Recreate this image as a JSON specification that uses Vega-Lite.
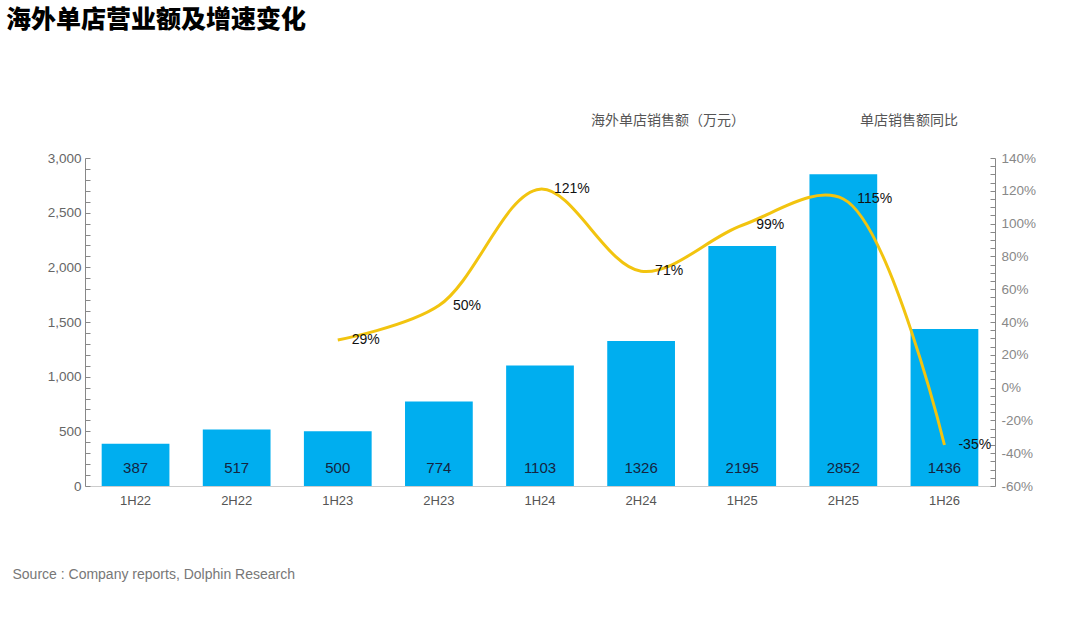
{
  "$schema": "https://vega.github.io/schema/vega-lite/v6.json",
  "width": 910,
  "height": 328,
  "autosize": "none",
  "padding": {"left": 85, "right": 85, "top": 158, "bottom": 142},
  "background": "white",
  "title": {
    "text": "海外单店营业额及增速变化",
    "anchor": "start",
    "dx": -6,
    "offset": 81,
    "font": "Noto Sans CJK SC",
    "fontSize": 25,
    "fontWeight": 900,
    "color": "#000000"
  },
  "config": {
    "view": {"stroke": null},
    "font": "Liberation Sans, Noto Sans CJK SC"
  },
  "data": {
    "values": [
      {"period": "1H22", "sales": 387, "growth": null},
      {"period": "2H22", "sales": 517, "growth": null},
      {"period": "1H23", "sales": 500, "growth": 29},
      {"period": "2H23", "sales": 774, "growth": 50},
      {"period": "1H24", "sales": 1103, "growth": 121},
      {"period": "2H24", "sales": 1326, "growth": 71},
      {"period": "1H25", "sales": 2195, "growth": 99},
      {"period": "2H25", "sales": 2852, "growth": 115},
      {"period": "1H26", "sales": 1436, "growth": -35}
    ]
  },
  "encoding": {
    "x": {
      "field": "period",
      "type": "nominal",
      "sort": null,
      "scale": {"paddingInner": 0.33, "paddingOuter": 0.165},
      "axis": {
        "labelAngle": 0,
        "labelFontSize": 13,
        "labelColor": "#555555",
        "labelPadding": 8,
        "ticks": false,
        "domainColor": "#cccccc",
        "title": "Source : Company reports, Dolphin Research",
        "titleX": -73,
        "titleY": 88,
        "titleAlign": "left",
        "titleBaseline": "middle",
        "titleFontSize": 14,
        "titleFontWeight": "normal",
        "titleColor": "#777777"
      }
    }
  },
  "layer": [
    {
      "mark": {"type": "bar"},
      "encoding": {
        "y": {
          "field": "sales",
          "type": "quantitative",
          "scale": {"domain": [0, 3000], "nice": false},
          "axis": {
            "title": null,
            "values": [0,100,200,300,400,500,600,700,800,900,1000,1100,1200,1300,1400,1500,1600,1700,1800,1900,2000,2100,2200,2300,2400,2500,2600,2700,2800,2900,3000],
            "labelExpr": "datum.value % 500 === 0 ? format(datum.value, ',') : ''",
            "labelOverlap": false,
            "grid": false,
            "tickSize": -5,
            "tickColor": "#888888",
            "domainColor": "#888888",
            "labelPadding": 9,
            "labelFontSize": 13.5,
            "labelColor": "#666666"
          }
        },
        "color": {
          "datum": "海外单店销售额（万元）",
          "type": "nominal",
          "scale": {
            "domain": ["海外单店销售额（万元）", "单店销售额同比"],
            "range": ["#00AEEF", "#F2C40F"]
          },
          "legend": {
            "orient": "none",
            "legendX": 492,
            "legendY": -44,
            "direction": "horizontal",
            "title": null,
            "symbolSize": 0,
            "symbolOpacity": 0,
            "labelOffset": 0,
            "columnPadding": 101,
            "labelFontSize": 14,
            "labelColor": "#555555",
            "labelLimit": 300
          }
        }
      }
    },
    {
      "mark": {"type": "text", "baseline": "middle", "dy": -18, "fontSize": 15, "color": "#15243f"},
      "encoding": {
        "y": {"value": "height"},
        "text": {"field": "sales", "type": "quantitative"}
      }
    },
    {
      "transform": [{"filter": "datum.growth != null"}],
      "encoding": {
        "y": {
          "field": "growth",
          "type": "quantitative",
          "scale": {"domain": [-60, 140], "nice": false},
          "axis": {
            "orient": "right",
            "title": null,
            "values": [-60,-55,-50,-45,-40,-35,-30,-25,-20,-15,-10,-5,0,5,10,15,20,25,30,35,40,45,50,55,60,65,70,75,80,85,90,95,100,105,110,115,120,125,130,135,140],
            "labelExpr": "datum.value % 20 === 0 ? datum.value + '%' : ''",
            "labelOverlap": false,
            "grid": false,
            "tickSize": -5,
            "tickColor": "#888888",
            "domainColor": "#888888",
            "labelPadding": 11,
            "labelFontSize": 13.5,
            "labelColor": "#888888"
          }
        }
      },
      "layer": [
        {
          "mark": {"type": "line", "interpolate": "catmull-rom", "strokeWidth": 3},
          "encoding": {
            "color": {"datum": "单店销售额同比", "type": "nominal"}
          }
        },
        {
          "mark": {"type": "text", "align": "left", "baseline": "middle", "dx": 14, "fontSize": 14, "color": "#111111", "text": {"expr": "datum.growth + '%'"}}
        }
      ]
    }
  ],
  "resolve": {"scale": {"y": "independent"}}
}
